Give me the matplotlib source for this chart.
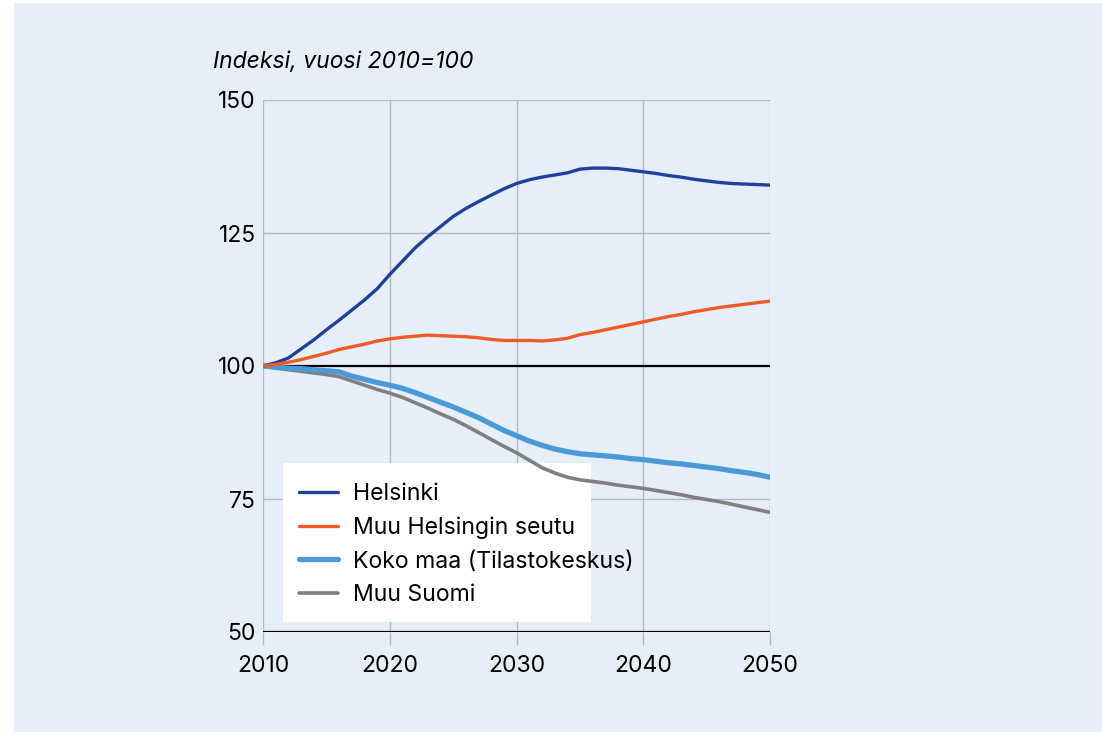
import matplotlib
matplotlib.use("Agg")
import matplotlib.pyplot as plt
from matplotlib.patches import Rectangle

plt.rcParams['font.family'] = ['Inter', 'DejaVu Sans']

years = list(range(2010, 2051))

helsinki = [100, 100.6, 101.5, 103.2, 104.9, 106.8, 108.6, 110.5, 112.4, 114.5,
            117.2, 119.7, 122.2, 124.3, 126.2, 128.1, 129.6, 130.9, 132.1, 133.3,
            134.3, 135.0, 135.5, 135.9, 136.3, 137.0, 137.2, 137.2, 137.1, 136.8,
            136.5, 136.2, 135.8, 135.5, 135.1, 134.8, 134.5, 134.3, 134.2, 134.1, 134.0]

muu_seutu = [100, 100.3, 100.7, 101.2, 101.8, 102.4, 103.1, 103.6, 104.1, 104.7,
             105.1, 105.4, 105.6, 105.8, 105.7, 105.6, 105.5, 105.3, 105.0, 104.8,
             104.8, 104.8, 104.7, 104.9, 105.2, 105.9, 106.3, 106.8, 107.3, 107.8,
             108.3, 108.8, 109.3, 109.7, 110.2, 110.6, 111.0, 111.3, 111.6, 111.9, 112.2]

koko_maa = [100, 99.8, 99.6, 99.5, 99.3, 99.1, 98.9, 98.1, 97.5, 96.9,
            96.4, 95.8, 95.0, 94.1, 93.2, 92.3, 91.3, 90.3, 89.1, 87.9,
            86.9, 85.9, 85.1, 84.4, 83.9, 83.5, 83.3, 83.1, 82.9, 82.6,
            82.4, 82.1, 81.8, 81.6, 81.3, 81.0, 80.7, 80.3, 80.0, 79.6, 79.1]

muu_suomi = [100, 99.6, 99.3, 99.0, 98.7, 98.4, 98.0, 97.2, 96.4, 95.6,
             94.9, 94.1, 93.1, 92.1, 91.0, 90.0, 88.8, 87.5, 86.2, 84.9,
             83.7, 82.3, 80.9, 79.9, 79.1, 78.6, 78.3, 78.0, 77.6, 77.3,
             77.0, 76.6, 76.2, 75.8, 75.3, 74.9, 74.5, 74.0, 73.5, 73.0, 72.5]

labels = ["Helsinki", "Muu Helsingin seutu", "Koko maa (Tilastokeskus)", "Muu Suomi"]
x_ticks = [2010, 2020, 2030, 2040, 2050]
y_ticks = [50, 75, 100, 125, 150]
title = "Indeksi, vuosi 2010=100"

BG = '#E6EEF9'
GRID = '#B8B8B8'

W, H = 1102, 732
fig = plt.figure(figsize=(W / 100, H / 100), dpi=100, facecolor='white')
fig.patches.append(Rectangle((14 / W, 0), 1 - 14 / W, (H - 3) / H,
                             transform=fig.transFigure, facecolor=BG,
                             edgecolor='none', zorder=-10))

ax = fig.add_axes([263 / W, 1 - 632 / H, (770 - 263) / W, (632 - 100) / H])
ax.set_facecolor('none')
ax.set_xlim(2010, 2050)
ax.set_ylim(50, 150)
for s in ax.spines.values():
    s.set_visible(False)

# grid
for xv in x_ticks:
    ax.axvline(xv, color=GRID, lw=1.0, zorder=1)
for yv in [75, 125, 150]:
    ax.axhline(yv, color=GRID, lw=1.0, zorder=1)
ax.axhline(100, color='black', lw=1.6, zorder=2)
ax.axhline(50, color='black', lw=1.6, zorder=2)

ax.set_xticks(x_ticks)
ax.set_yticks(y_ticks)
ax.tick_params(axis='x', length=9.5, width=1.0, color=GRID, pad=7, labelsize=16.5)
ax.tick_params(axis='y', length=0, pad=5, labelsize=16.5)

lw = [2.4, 2.4, 3.8, 2.6]
colors = ['#22409A', '#F05A24', '#4A9AD8', '#808080']
series = [helsinki, muu_seutu, koko_maa, muu_suomi]
order_z = [5, 5, 4, 3]
handles = []
for s, c, w, lab, z in zip(series, colors, lw, labels, order_z):
    h, = ax.plot(years, s, color=c, lw=w, label=lab, zorder=z,
                 solid_capstyle='round', solid_joinstyle='round')
    handles.append(h)

# legend box (under the lines, above grid)
x0 = (283 - 263) / 507
x1 = (591 - 263) / 507
y0 = (632 - 622) / 532
y1 = (632 - 463) / 532
ax.add_patch(Rectangle((x0, y0), x1 - x0, y1 - y0, transform=ax.transAxes,
                       facecolor='white', edgecolor='none', zorder=2.5))
leg = ax.legend(handles=handles, loc='upper left',
                bbox_to_anchor=((299 - 263) / 507, (632 - 483) / 532),
                frameon=False, fontsize=16.6, handlelength=1.7,
                handletextpad=0.65, labelspacing=0.5, borderpad=0,
                borderaxespad=0)
leg.set_zorder(9)

fig.text(213 / W, 1 - 62 / H, title, fontsize=16.5, style='italic',
         ha='left', va='center')

fig.savefig('out.png', dpi=100, facecolor='white')
